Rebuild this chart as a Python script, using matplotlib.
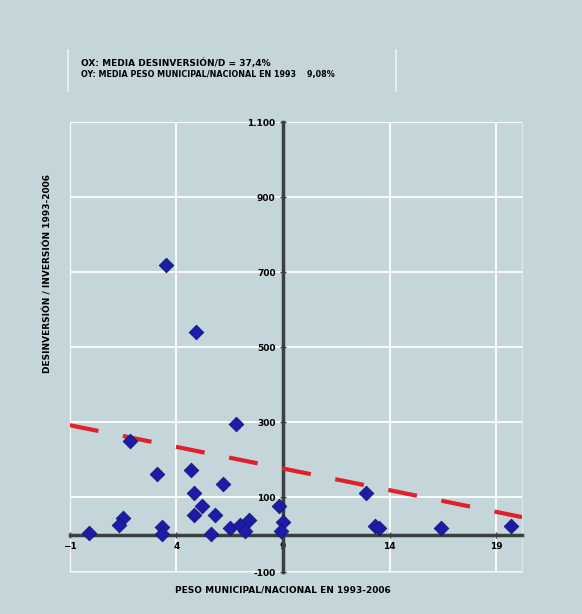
import numpy as np
import matplotlib.pyplot as plt
from matplotlib.patches import Rectangle

# datos
peso_municipal = [3.5, 4.9, 6.8, 1.8, 3.1, 4.7, 4.8, 6.2, 5.2, 4.8, 5.8, 8.8,
                  1.5, 1.3, -0.1, 3.3, 3.3, 5.6, 6.5, 7.0, 7.2, 7.4, 9.0, 8.9,
                  12.9, 13.3, 13.5, 16.4, 19.7]
desinversion = [719, 541, 295, 251, 162, 172, 110, 135, 76, 52, 52, 76,
                44, 25, 5, 20, 3, 3, 18, 25, 10, 39, 34, 10,
                110, 23, 17, 19, 23]
x_ticks = [-1, 4, 9, 14, 19]
y_ticks = [-100, 100, 300, 500, 700, 900, 1100]
y_labels = ['-100', '100', '300', '500', '700', '900', '1.100']
media_x = 9  # cruce del eje vertical
# línea de tendencia
tend_ordenada = 280.5
tend_pendiente = -11.56

bg = '#c4d6d9'
fig = plt.figure(figsize=(5.82, 6.14), dpi=100, facecolor=bg)
ax = fig.add_axes([0.12, 0.068, 0.777, 0.733])
ax.set_facecolor(bg)

ax.set_xlim(-1, 20.2)
ax.set_ylim(-100, 1100)
ax.set_xticks(x_ticks)
ax.set_yticks(y_ticks)
ax.set_yticklabels(y_labels)
ax.grid(True, color='white', lw=1.3)

# ejes cruzados
for s in ['top', 'right']:
    ax.spines[s].set_visible(False)
ax.spines['left'].set_position(('data', media_x))
ax.spines['bottom'].set_position(('data', 0))
for s in ['left', 'bottom']:
    ax.spines[s].set_color('#3a3f40')
    ax.spines[s].set_linewidth(2.5)
    ax.spines[s].set_zorder(2.5)
ax.tick_params(axis='both', direction='inout', length=5, width=1, color='#3a3f40',
               labelsize=6.5, pad=3)
for lb in ax.get_xticklabels() + ax.get_yticklabels():
    lb.set_fontweight('bold')

ax.add_patch(Rectangle((0, 0), 1, 1, transform=ax.transAxes, fill=False,
                       edgecolor='#dde6e8', lw=1.0, zorder=0.5, clip_on=False))

# tendencia lineal
xs = np.array([-1, 20.2])
ax.plot(xs, tend_ordenada + tend_pendiente * xs, color='#e0202a', lw=3,
        ls=(0, (7, 6)), zorder=3)

ax.scatter(peso_municipal, desinversion, marker='D', s=55, color='#1c1ca8',
           edgecolor='#14147a', lw=0.6, zorder=4)

ax.set_xlabel('PESO MUNICIPAL/NACIONAL EN 1993-2006', fontsize=6.5, fontweight='bold')
ax.xaxis.set_label_coords(0.47, -0.03)
fig.text(0.083, 0.555, 'DESINVERSIÓN / INVERSIÓN 1993-2006', rotation=90,
         fontsize=6.5, fontweight='bold', ha='center', va='center')

# cuadro de texto superior
fig.text(0.14, 0.892, 'OX: MEDIA DESINVERSIÓN/D = 37,4%', fontsize=6.5, fontweight='bold')
fig.text(0.14, 0.874, 'OY: MEDIA PESO MUNICIPAL/NACIONAL EN 1993    9,08%', fontsize=5.8,
         fontweight='bold')
fig.add_artist(plt.Line2D([0.117, 0.117], [0.852, 0.918], color='#e4eced', lw=1.5))
fig.add_artist(plt.Line2D([0.68, 0.68], [0.852, 0.918], color='#e4eced', lw=1.5))

plt.savefig('out.png', dpi=100, facecolor=bg)
